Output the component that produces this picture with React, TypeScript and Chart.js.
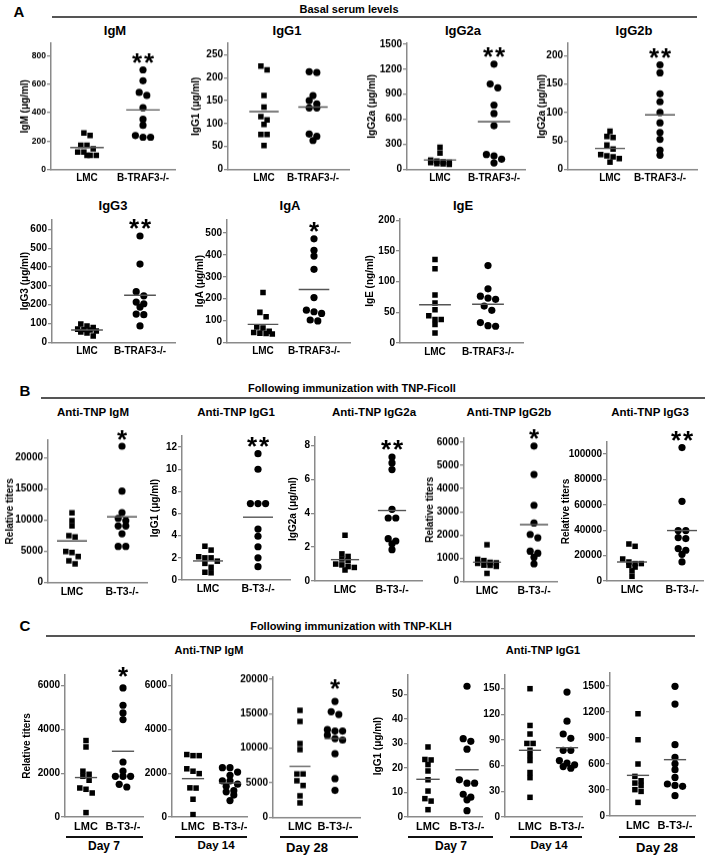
import React, { useEffect, useRef } from "react";
import { Chart, registerables } from "chart.js";
Chart.register(...registerables);

const FONT = '"Liberation Sans", Arial, Helvetica, sans-serif';
const AX = "#8a8a8a";

// ---------------- Data ----------------
const groupsA = ["LMC", "B-TRAF3-/-"];
const groupsBC = ["LMC", "B-T3-/-"];

// A: basal serum levels
const igmLMC = [257, 239, 171, 171, 145, 122, 122, 100, 100, 100];
const igmKO = [702, 625, 543, 522, 435, 353, 311, 239, 227, 227];
const igmMeans = [154, 419];
const igmTicks = [0, 200, 400, 600, 800];

const igg1LMC = [225, 217, 161, 136, 115, 108, 98, 76, 76, 52];
const igg1KO = [213, 211, 161, 150, 143, 134, 134, 77, 72, 63];
const igg1Means = [126, 136];
const igg1Ticks = [0, 50, 100, 150, 200, 250];

const igg2aLMC = [265, 195, 110, 100, 90, 85, 80, 70, 65, 60];
const igg2aKO = [1260, 1022, 977, 770, 669, 523, 178, 162, 122, 77];
const igg2aMeans = [113, 572];
const igg2aTicks = [0, 300, 600, 900, 1200, 1500];

const igg2bLMC = [67, 58, 56, 43, 36, 26, 24, 22, 19, 13];
const igg2bKO = [184, 170, 133, 119, 100, 82, 65, 53, 34, 25];
const igg2bMeans = [37, 96];
const igg2bTicks = [0, 50, 100, 150, 200];

const igg3LMC = [97, 87, 78, 70, 68, 65, 60, 55, 50, 33];
const igg3KO = [565, 416, 269, 247, 214, 205, 187, 150, 147, 87];
const igg3Means = [65, 250];
const igg3Ticks = [0, 100, 200, 300, 400, 500, 600];

const igaLMC = [228, 137, 117, 70, 65, 50, 45, 42, 40, 38];
const igaKO = [474, 421, 395, 334, 205, 147, 140, 132, 102, 98];
const igaMeans = [82, 242];
const igaTicks = [0, 100, 200, 300, 400, 500];

const igeLMC = [136, 121, 78, 65, 54, 44, 38, 38, 30, 16];
const igeKO = [126, 88, 76, 73, 71, 60, 53, 33, 28, 27];
const igeMeans = [62, 63];
const igeTicks = [0, 50, 100, 150, 200];

// B: TNP-Ficoll
const fIgmLMC = [11190, 9950, 9100, 7530, 7320, 5000, 4840, 4200, 3500, 3000];
const fIgmKO = [21890, 14680, 11240, 10320, 9950, 9100, 9100, 7850, 5810, 5810];
const fIgmMeans = [6680, 10550];
const fIgmTicks = [0, 5000, 10000, 15000, 20000];

const fIgg1LMC = [3.05, 2.7, 2.1, 2.0, 2.0, 1.7, 1.5, 1.15, 0.7, 0.65];
const fIgg1KO = [11.4, 10.0, 6.9, 6.9, 6.9, 4.6, 3.95, 3.0, 2.0, 1.2];
const fIgg1Means = [1.72, 5.67];
const fIgg1Ticks = [0, 2, 4, 6, 8, 10, 12];

const fIgg2aLMC = [2.7, 1.6, 1.45, 1.3, 1.2, 1.0, 0.95, 0.85, 0.8, 0.65];
const fIgg2aKO = [7.32, 6.97, 6.58, 4.23, 3.72, 3.72, 2.5, 2.36, 2.2, 1.85];
const fIgg2aMeans = [1.26, 4.16];
const fIgg2aTicks = [0, 2, 4, 6, 8];

const fIgg2bLMC = [1576, 953, 896, 820, 800, 780, 700, 690, 650, 346];
const fIgg2bKO = [5833, 4607, 3278, 2512, 2022, 1879, 1300, 1212, 1040, 753];
const fIgg2bMeans = [823, 2442];
const fIgg2bTicks = [0, 1000, 2000, 3000, 4000, 5000, 6000];

const fIgg3LMC = [29120, 27300, 17300, 14950, 13700, 13700, 12350, 11000, 8000, 3700];
const fIgg3KO = [105000, 62700, 39700, 39700, 34200, 33400, 25500, 24200, 21000, 15000];
const fIgg3Means = [14950, 39700];
const fIgg3Ticks = [0, 20000, 40000, 60000, 80000, 100000];

// C: TNP-KLH
const kIgmD7LMC = [3488, 3196, 2090, 1950, 1858, 1676, 1324, 1265, 1096, 201];
const kIgmD7KO = [5890, 5100, 4750, 4447, 2511, 2100, 1858, 1858, 1858, 1493, 1370];
const kIgmD7Means = [1800, 3000];
const kIgmD14LMC = [2850, 2800, 2800, 2200, 2090, 1980, 1330, 1320, 810, 110];
const kIgmD14KO = [2250, 2250, 2050, 1900, 1650, 1650, 1500, 1400, 1200, 1150, 1000, 750];
const kIgmD14Means = [1750, 1550];
const kIgmShortTicks = [0, 2000, 4000, 6000];
const kIgmD28LMC = [15500, 13900, 10700, 9800, 6300, 6300, 5300, 4600, 3100, 2100];
const kIgmD28KO = [16800, 15300, 14900, 12700, 12500, 12500, 11900, 11400, 11200, 9200, 5600, 3900];
const kIgmD28Means = [7400, 11400];
const kIgmD28Ticks = [0, 5000, 10000, 15000, 20000];

const kIgg1D7LMC = [28.6, 23.5, 23.3, 21.4, 18.8, 15.2, 10.6, 7.5, 6.5, 3.0];
const kIgg1D7KO = [53.4, 32, 30.9, 27.7, 15.2, 13.8, 13.8, 9.3, 8.1, 7.0, 2.6];
const kIgg1D7Means = [15.4, 19.3];
const kIgg1D7Ticks = [0, 10, 20, 30, 40, 50];
const kIgg1D14LMC = [150, 107, 97, 86, 86, 78, 72, 66, 52, 46, 23];
const kIgg1D14KO = [146, 112, 97, 92, 78, 78, 66, 63, 61, 59, 57];
const kIgg1D14Means = [78, 81];
const kIgg1D14Ticks = [0, 30, 60, 90, 120, 150];
const kIgg1D28LMC = [1180, 880, 600, 457, 407, 380, 353, 304, 284, 157];
const kIgg1D28KO = [1496, 1292, 823, 676, 603, 534, 445, 369, 353, 342, 234];
const kIgg1D28Means = [469, 650];
const kIgg1D28Ticks = [0, 300, 600, 900, 1200, 1500];

// ---------------- Layout ----------------
type Spec = {
  lmc: number[]; ko: number[]; means: number[]; ticks: number[]; yMax: number; labels: string[];
  yTitle?: string; stars?: string;
  ax: number; right: number; top: number; zero: number; c1: number; c2: number;
  titleX?: number; starGap?: number; tickSize?: number; labelSize?: number;
};

const specs: Spec[] = [
  // A row 1
  { lmc: igmLMC, ko: igmKO, means: igmMeans, ticks: igmTicks, yMax: 890, labels: groupsA, yTitle: "IgM (μg/ml)", stars: "**",
    ax: 51, right: 175, top: 43, zero: 168.5, c1: 87, c2: 143, titleX: 25, tickSize: 8.5 },
  { lmc: igg1LMC, ko: igg1KO, means: igg1Means, ticks: igg1Ticks, yMax: 275, labels: groupsA, yTitle: "IgG1 (μg/ml)",
    ax: 228, right: 349, top: 43, zero: 168.5, c1: 264, c2: 313, titleX: 196 },
  { lmc: igg2aLMC, ko: igg2aKO, means: igg2aMeans, ticks: igg2aTicks, yMax: 1510, labels: groupsA, yTitle: "IgG2a (μg/ml)", stars: "**",
    ax: 407, right: 525, top: 43, zero: 168.5, c1: 440, c2: 494, titleX: 372 },
  { lmc: igg2bLMC, ko: igg2bKO, means: igg2bMeans, ticks: igg2bTicks, yMax: 222, labels: groupsA, yTitle: "IgG2a (μg/ml)", stars: "**",
    ax: 568, right: 697, top: 43, zero: 168.5, c1: 610, c2: 660, titleX: 542 },
  // A row 2
  { lmc: igg3LMC, ko: igg3KO, means: igg3Means, ticks: igg3Ticks, yMax: 650, labels: groupsA, yTitle: "IgG3 (μg/ml)", stars: "**",
    ax: 52, right: 175, top: 220, zero: 342.3, c1: 87, c2: 140, titleX: 25 },
  { lmc: igaLMC, ko: igaKO, means: igaMeans, ticks: igaTicks, yMax: 560, labels: groupsA, yTitle: "IgA (μg/ml)", stars: "*",
    ax: 227, right: 350, top: 220, zero: 342.3, c1: 263, c2: 314, titleX: 200 },
  { lmc: igeLMC, ko: igeKO, means: igeMeans, ticks: igeTicks, yMax: 202, labels: groupsA, yTitle: "IgE (ng/ml)",
    ax: 400, right: 523, top: 218.5, zero: 342.3, c1: 435, c2: 488, titleX: 370 },
  // B
  { lmc: fIgmLMC, ko: fIgmKO, means: fIgmMeans, ticks: fIgmTicks, yMax: 22860, labels: groupsBC, yTitle: "Relative titers", stars: "*",
    ax: 48, right: 147, top: 440, zero: 581.7, c1: 72, c2: 122, titleX: 10, labelSize: 10.5 },
  { lmc: fIgg1LMC, ko: fIgg1KO, means: fIgg1Means, ticks: fIgg1Ticks, yMax: 13, labels: groupsBC, yTitle: "IgG1 (μg/ml)", stars: "**",
    ax: 182, right: 290, top: 436, zero: 580, c1: 208, c2: 258, titleX: 155, labelSize: 10.5 },
  { lmc: fIgg2aLMC, ko: fIgg2aKO, means: fIgg2aMeans, ticks: fIgg2aTicks, yMax: 8.5, labels: groupsBC, yTitle: "IgG2a (μg/ml)", stars: "**",
    ax: 315, right: 422, top: 436.7, zero: 580.7, c1: 345, c2: 392, titleX: 293, labelSize: 10.5 },
  { lmc: fIgg2bLMC, ko: fIgg2bKO, means: fIgg2bMeans, ticks: fIgg2bTicks, yMax: 6170, labels: groupsBC, yTitle: "Relative titers", stars: "*",
    ax: 464, right: 557, top: 438.3, zero: 580.7, c1: 487, c2: 534, titleX: 430, labelSize: 10.5 },
  { lmc: fIgg3LMC, ko: fIgg3KO, means: fIgg3Means, ticks: fIgg3Ticks, yMax: 109400, labels: groupsBC, yTitle: "Relative titers", stars: "**",
    ax: 607, right: 703, top: 441.7, zero: 580.7, c1: 632, c2: 682, titleX: 566, labelSize: 10.5 },
  // C
  { lmc: kIgmD7LMC, ko: kIgmD7KO, means: kIgmD7Means, ticks: kIgmShortTicks, yMax: 6480, labels: groupsBC, yTitle: "Relative titers", stars: "*",
    ax: 65, right: 143, top: 675, zero: 817, c1: 86, c2: 123, titleX: 27, starGap: 16, labelSize: 11 },
  { lmc: kIgmD14LMC, ko: kIgmD14KO, means: kIgmD14Means, ticks: kIgmShortTicks, yMax: 6480, labels: groupsBC,
    ax: 172, right: 247, top: 675, zero: 817, c1: 193, c2: 230, labelSize: 11 },
  { lmc: kIgmD28LMC, ko: kIgmD28KO, means: kIgmD28Means, ticks: kIgmD28Ticks, yMax: 20300, labels: groupsBC, stars: "*",
    ax: 273, right: 360, top: 677.3, zero: 816.7, c1: 300, c2: 335, starGap: 17, labelSize: 11 },
  { lmc: kIgg1D7LMC, ko: kIgg1D7KO, means: kIgg1D7Means, ticks: kIgg1D7Ticks, yMax: 58, labels: groupsBC, yTitle: "IgG1 (μg/ml)",
    ax: 408, right: 482, top: 675, zero: 817, c1: 428, c2: 467, titleX: 378, labelSize: 11 },
  { lmc: kIgg1D14LMC, ko: kIgg1D14KO, means: kIgg1D14Means, ticks: kIgg1D14Ticks, yMax: 166, labels: groupsBC,
    ax: 505, right: 582, top: 675, zero: 817, c1: 530, c2: 567, labelSize: 11 },
  { lmc: kIgg1D28LMC, ko: kIgg1D28KO, means: kIgg1D28Means, ticks: kIgg1D28Ticks, yMax: 1650, labels: groupsBC,
    ax: 610, right: 695, top: 673.3, zero: 816.3, c1: 638, c2: 675, labelSize: 11 },
];

const PT = 36; // room above plot for stars
const H = 22; // x-axis box height
const PR = 14; // right room

// arrange points with similar values side by side (column scatter)
function swarm(values: number[], pxPerVal: number, dxUnits: number, rowPx: number, maxRow: number) {
  const idx = values.map((_, i) => i).sort((a, b) => values[b] - values[a]);
  const off = new Array(values.length).fill(0);
  let i = 0;
  while (i < idx.length) {
    let j = i + 1;
    while (j < idx.length && j - i < maxRow && (values[idx[i]] - values[idx[j]]) * pxPerVal < rowPx) j++;
    const n = j - i;
    for (let k = 0; k < n; k++) off[idx[i + k]] = (k - (n - 1) / 2) * dxUnits;
    i = j;
  }
  return off;
}

const starPlugin = {
  id: "stars",
  afterDatasetsDraw(chart: any, _args: any, opts: any) {
    if (!opts || !opts.text) return;
    const { ctx } = chart;
    const x = chart.scales.x.getPixelForValue(2);
    const y = chart.scales.y.getPixelForValue(opts.value) - opts.gap;
    ctx.save();
    ctx.font = `bold ${opts.size}px ${FONT}`;
    ctx.fillStyle = "#000";
    ctx.textAlign = "center";
    ctx.textBaseline = "alphabetic";
    const m = ctx.measureText("*");
    const c = (m.actualBoundingBoxAscent - m.actualBoundingBoxDescent) / 2;
    const n = opts.text.length;
    for (let k = 0; k < n; k++) ctx.fillText("*", x + (k - (n - 1) / 2) * opts.spacing, y + c);
    ctx.restore();
  },
};

function Panel({ s }: { s: Spec }) {
  const ref = useRef<HTMLCanvasElement>(null);
  const left = s.titleX != null ? s.titleX - 6 : s.ax - 42;
  const W = s.ax - left;
  const width = s.right - left + PR;
  const height = s.zero - s.top + PT + H;
  useEffect(() => {
    const u = 1 / (s.c2 - s.c1);
    const xMin = 1 - (s.c1 - s.ax) * u;
    const xMax = 2 + (s.right - s.c2) * u;
    const pxPerVal = (s.zero - s.top) / s.yMax;
    const offL = swarm(s.lmc, pxPerVal, 6.2 * u, 5, 4);
    const offK = swarm(s.ko, pxPerVal, 7.6 * u, 5, 4);
    const h = 0.3;
    const tickSize = s.tickSize ?? 10;
    const labelSize = s.labelSize ?? 10;
    const chart = new Chart(ref.current!, {
      type: "scatter",
      data: {
        datasets: [
          { type: "line", data: [{ x: 1 - h, y: s.means[0] }, { x: 1 + h, y: s.means[0] }], borderColor: "#555", borderWidth: 1.4, pointRadius: 0 } as any,
          { type: "line", data: [{ x: 2 - h, y: s.means[1] }, { x: 2 + h, y: s.means[1] }], borderColor: "#555", borderWidth: 1.4, pointRadius: 0 } as any,
          { data: s.lmc.map((v, i) => ({ x: 1 + offL[i], y: v })), pointStyle: "rect", pointRadius: 3.9, backgroundColor: "#000", borderWidth: 0 },
          { data: s.ko.map((v, i) => ({ x: 2 + offK[i], y: v })), pointStyle: "circle", pointRadius: 3.6, backgroundColor: "#000", borderWidth: 0 },
        ],
      },
      options: {
        animation: false,
        responsive: true,
        maintainAspectRatio: false,
        events: [],
        layout: { padding: { top: PT, right: PR, left: 0, bottom: 0 } },
        plugins: {
          legend: { display: false },
          tooltip: { enabled: false },
          stars: { text: s.stars || "", value: Math.max(...s.ko), gap: s.starGap ?? 11.5, size: 26, spacing: 12 },
        } as any,
        scales: {
          x: {
            type: "linear", min: xMin, max: xMax,
            afterFit: (sc: any) => { sc.height = H; },
            afterBuildTicks: (sc: any) => { sc.ticks = [{ value: 1 }, { value: 2 }]; },
            ticks: { callback: (v: any) => s.labels[Math.round(v) - 1], font: { family: FONT, size: labelSize, weight: "bold" }, color: "#000", padding: 3, maxRotation: 0, autoSkip: false },
            grid: { display: false, drawTicks: false },
            border: { display: true, color: AX, width: 1.5 },
          },
          y: {
            type: "linear", min: 0, max: s.yMax,
            afterFit: (sc: any) => { sc.width = W; },
            afterBuildTicks: (sc: any) => { sc.ticks = s.ticks.map((v) => ({ value: v })); },
            ticks: { callback: (v: any) => String(v), font: { family: FONT, size: tickSize, weight: "bold" }, color: "#000", padding: 1, autoSkip: false },
            grid: { display: true, drawOnChartArea: false, drawTicks: true, tickLength: 4, color: AX, lineWidth: 1.3 },
            border: { display: true, color: AX, width: 1.5 },
            title: { display: !!s.yTitle, text: s.yTitle || "", font: { family: FONT, size: 10, weight: "bold", lineHeight: 1.2 }, color: "#000", padding: 0 },
          },
        },
      } as any,
      plugins: [starPlugin as any],
    });
    return () => chart.destroy();
  }, []);
  return (
    <div style={{ position: "absolute", left, top: s.top - PT, width, height }}>
      <canvas ref={ref} />
    </div>
  );
}

function T({ x, y, size, children }: { x: number; y: number; size: number; children: React.ReactNode }) {
  return (
    <div style={{ position: "absolute", left: x, top: y, transform: "translate(-50%,-50%)", fontFamily: FONT, fontSize: size, fontWeight: "bold", whiteSpace: "nowrap", lineHeight: 1, color: "#000" }}>
      {children}
    </div>
  );
}

function HL({ x1, x2, y, w = 1.5, c = "#555" }: { x1: number; x2: number; y: number; w?: number; c?: string }) {
  return <div style={{ position: "absolute", left: x1, top: y - w / 2, width: x2 - x1, height: w, background: c }} />;
}

export default function App() {
  return (
    <div style={{ position: "absolute", left: 0, top: 0, width: 711, height: 858, background: "#fff", overflow: "hidden" }}>
      {/* Panel A */}
      <T x={19} y={11} size={15}>A</T>
      <T x={349} y={8.5} size={11}>Basal serum levels</T>
      <HL x1={52} x2={697} y={17} />
      <T x={115} y={30} size={13}>IgM</T>
      <T x={287} y={30} size={13}>IgG1</T>
      <T x={463} y={30} size={13}>IgG2a</T>
      <T x={634} y={30} size={13}>IgG2b</T>
      <T x={113} y={205} size={13}>IgG3</T>
      <T x={290} y={205} size={13}>IgA</T>
      <T x={463} y={205} size={13}>IgE</T>

      {/* Panel B */}
      <T x={25} y={390} size={15}>B</T>
      <T x={352} y={388} size={11}>Following immunization with TNP-Ficoll</T>
      <HL x1={41} x2={705} y={398} />
      <T x={93} y={413} size={11.5}>Anti-TNP IgM</T>
      <T x={236} y={413} size={11.5}>Anti-TNP IgG1</T>
      <T x={374} y={413} size={11.5}>Anti-TNP IgG2a</T>
      <T x={509} y={413} size={11.5}>Anti-TNP IgG2b</T>
      <T x={650} y={413} size={11.5}>Anti-TNP IgG3</T>

      {/* Panel C */}
      <T x={25} y={625} size={15}>C</T>
      <T x={351} y={626} size={11}>Following immunization with TNP-KLH</T>
      <HL x1={46} x2={695} y={636} />
      <T x={209} y={650} size={11}>Anti-TNP IgM</T>
      <T x={543} y={650} size={11}>Anti-TNP IgG1</T>

      <HL x1={66} x2={143} y={837} w={2} c="#111" />
      <T x={104} y={846} size={12}>Day 7</T>
      <HL x1={175} x2={247} y={837} w={2} c="#111" />
      <T x={216} y={846} size={11.5}>Day 14</T>
      <HL x1={280} x2={358} y={837} w={2} c="#111" />
      <T x={307} y={847} size={13}>Day 28</T>
      <HL x1={408} x2={493} y={837} w={2} c="#111" />
      <T x={451} y={846} size={12}>Day 7</T>
      <HL x1={510} x2={582} y={837} w={2} c="#111" />
      <T x={549} y={846} size={11.5}>Day 14</T>
      <HL x1={619} x2={695} y={837} w={2} c="#111" />
      <T x={657} y={847} size={13}>Day 28</T>

      {specs.map((s, i) => (
        <Panel key={i} s={s} />
      ))}
    </div>
  );
}
